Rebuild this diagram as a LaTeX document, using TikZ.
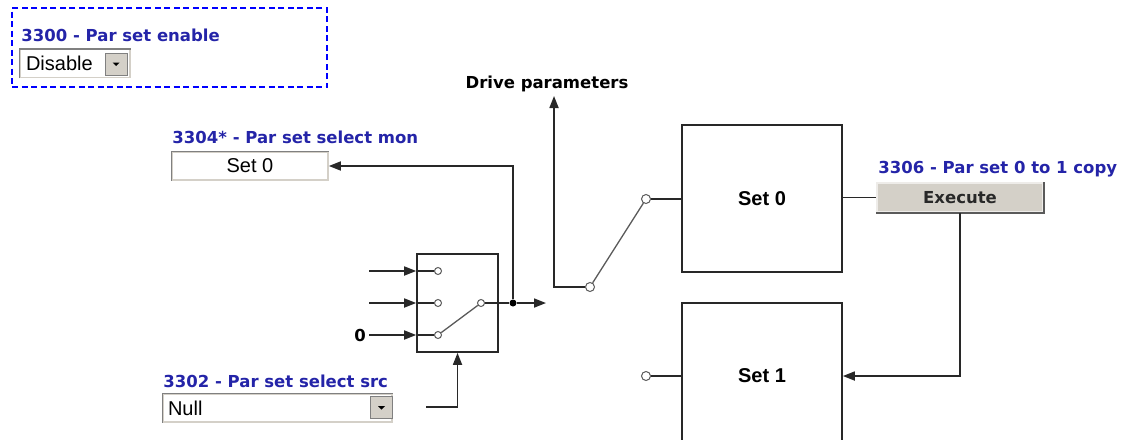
\documentclass[tikz,border=0pt]{standalone}
\usepackage{fontspec}
\setmainfont{Liberation Sans}
\newfontfamily\verdana{DejaVu Sans}
\usepackage{tikz}
\usetikzlibrary{
  arrows.meta,
  calc,
  positioning
}
\definecolor{parblue}{RGB}{36,36,168}
\definecolor{grpblue}{RGB}{0,0,255}
\definecolor{framegray}{RGB}{128,128,128}
\definecolor{facegray}{RGB}{212,208,200}
\definecolor{inkgray}{RGB}{40,40,40}
\definecolor{portgray}{RGB}{90,90,90}
\tikzset{
  parlab/.style={font=\verdana\bfseries\fontsize{16.5}{18}\selectfont,
    text=parblue,inner sep=0pt,text depth=0pt},
  sigtext/.style={font=\verdana\bfseries\fontsize{16.5}{18}\selectfont,
    text=black,inner sep=0pt,text depth=0pt},
  field/.style={draw=facegray,line width=1.5pt,fill=white,inner ysep=0pt,
    minimum height=28pt,font=\fontsize{20}{22}\selectfont},
  dropbtn/.style={draw=framegray,fill=facegray,line width=1pt,
    minimum size=22pt,inner sep=0pt},
  execbox/.style={draw=white!60!facegray,fill=facegray,line width=1.5pt,
    minimum width=166pt,minimum height=29pt,
    font=\verdana\bfseries\fontsize{16.5}{18}\selectfont,text=inkgray},
  setbox/.style={draw=inkgray,line width=1.7pt,minimum width=160pt,
    align=center,font=\bfseries\fontsize{20}{22}\selectfont},
  muxbox/.style={draw=inkgray,line width=1.7pt,
    minimum width=81pt,minimum height=98pt},
  port/.style={circle,draw=portgray,fill=white,line width=1pt,
    minimum size=7pt,inner sep=0pt},
  junction/.style={circle,fill=black,minimum size=7pt,inner sep=0pt},
  grpframe/.style={draw=grpblue,line width=2.2pt,dash pattern=on 6pt off 3.5pt,
    minimum width=315pt,minimum height=79pt},
  wire/.style={line width=1.7pt,draw=inkgray},
  sig/.style={-{Triangle[length=12pt,width=9pt]},line width=1.7pt,draw=inkgray},
  arm/.style={line width=1.3pt,draw=portgray},
  sunken/.style={line width=1.5pt,draw=framegray},
  raised/.style={line width=1.5pt,draw=framegray!70!black}
}
\newcommand{\dropmark}[1]{\fill ($(#1.center)+(-3.5,-1.5)$) -- ++(7,0) -- ++(-3.5,3.5) -- cycle;}
\newcommand{\sunkenedge}[1]{\draw[sunken] (#1.south west) -- (#1.north west) -- (#1.north east);}

\begin{document}
\begin{tikzpicture}[x=1pt,y=-1pt]
  \useasboundingbox (0,0) rectangle (1124,439);
  \node[grpframe] (enablegrp) at (169.5,47.5) {};
  \node[field,text width=98pt,inner xsep=6pt,align=left] (enablebox) at (75,63.5) {Disable};
  \sunkenedge{enablebox}
  \node[dropbtn] (enablebtn) at (116,64) {};
  \dropmark{enablebtn}
  \node[parlab,above right=7pt and 2pt of enablebox.north west] (enablelab) {3300 - Par set enable};

  \node[field,minimum width=156pt] (monbox) at (250,166) {Set 0};
  \sunkenedge{monbox}
  \node[parlab,above right=8pt and 1pt of monbox.north west] (monlab) {3304* - Par set select mon};

  \node[field,text width=219pt,inner xsep=5pt,align=left] (srcbox) at (277.5,408) {Null};
  \sunkenedge{srcbox}
  \node[dropbtn] (srcbtn) at (381.5,407.5) {};
  \dropmark{srcbtn}
  \node[parlab,above right=6pt and 1pt of srcbox.north west] (srclab) {3302 - Par set select src};

  \node[muxbox] (mux) at (457.5,303) {};
  \foreach \i/\y in {1/271,2/303,3/335} {
    \coordinate (in\i) at (369,\y);
    \node[port] (p\i) at (438,\y) {};
    \draw[sig] (in\i) -- (mux.west |- in\i);
    \draw[wire] (mux.west |- in\i) -- (p\i);
  }
  \node[sigtext,left=3pt of in3] (zero) {0};
  \node[port] (pout) at (481,303) {};
  \node[junction] (dot) at (513,303) {};
  \coordinate (muxout) at (546,303);
  \coordinate (selin) at (426,407);
  \draw[arm] (p3) -- (pout);
  \draw[wire] (pout) -- (dot);
  \draw[sig] (dot) -- (muxout);
  \draw[sig] (dot) |- (monbox.east);
  \draw[sig] (selin) -| (mux.south);

  \node[setbox,minimum height=147pt] (set0) at (762,198.5) {Set 0};
  \node[setbox,minimum height=146pt] (set1) at (762,376) {Set 1};
  \node[port,minimum size=9pt] (q0) at (590,287) {};
  \node[port,minimum size=9pt] (q1) at (646,199) {};
  \node[port,minimum size=9pt] (q2) at (646,376) {};
  \coordinate (drvtip) at (554,96);
  \node[sigtext,anchor=base] (drvlab) at (547,88) {Drive parameters};
  \draw[sig] (q0) -| (drvtip);
  \draw[arm] (q0) -- (q1);
  \draw[wire] (q1) -- (set0.west |- q1);
  \draw[wire] (q2) -- (set1.west);

  \node[execbox] (exec) at (960,197.5) {Execute};
  \draw[raised] (exec.north east) -- (exec.south east) -- (exec.south west);
  \node[parlab,above right=9pt and 2pt of exec.north west] (execlab) {3306 - Par set 0 to 1 copy};
  \draw[wire] (exec.west -| set0.east) -- (exec.west);
  \draw[sig] (exec.south) |- (set1.east);
\end{tikzpicture}
\end{document}
